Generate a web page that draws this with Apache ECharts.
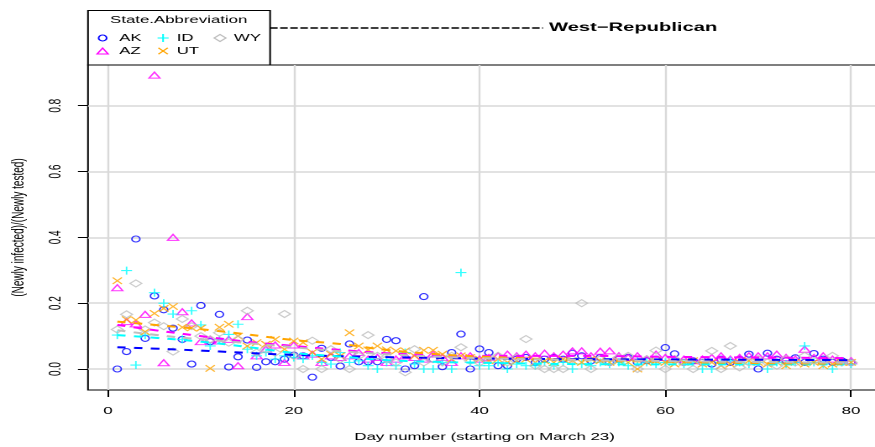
<!DOCTYPE html>
<html>
<head>
<meta charset="utf-8">
<script src="https://cdn.jsdelivr.net/npm/echarts@6/dist/echarts.min.js"></script>
<style>
  html, body { margin: 0; padding: 0; background: #fff; overflow: hidden; width: 875px; height: 447px; }
  /* The plot is laid out on a narrow canvas and widened, giving the wide, flat glyphs of the original device */
  #chart { width: 521px; height: 447px; transform: scaleX(1.6795); transform-origin: 0 0; }
</style>
</head>
<body>
<div id="chart"></div>
<script>
// Day index (starting on March 23)
const days = [1,2,3,4,5,6,7,8,9,10,11,12,13,14,15,16,17,18,19,20,
  21,22,23,24,25,26,27,28,29,30,31,32,33,34,35,36,37,38,39,40,
  41,42,43,44,45,46,47,48,49,50,51,52,53,54,55,56,57,58,59,60,
  61,62,63,64,65,66,67,68,69,70,71,72,73,74,75,76,77,78,79,80];

// (Newly infected)/(Newly tested) per state
const AK = [0.0,0.053,0.395,0.093,0.222,0.18,0.124,0.09,0.015,0.193,
  0.083,0.166,0.006,0.037,0.088,0.005,0.022,0.022,0.03,0.042,
  0.04,-0.025,0.063,0.035,0.009,0.076,0.022,0.022,0.022,0.09,
  0.086,0.0,0.01,0.22,0.03,0.007,0.05,0.106,0.0,0.061,
  0.05,0.01,0.01,0.03,0.035,0.02,0.03,0.035,0.03,0.048,
  0.04,0.025,0.035,0.02,0.03,0.035,0.02,0.025,0.03,0.065,
  0.046,0.02,0.025,0.02,0.015,0.03,0.02,0.03,0.045,0.0,
  0.048,0.03,0.025,0.034,0.02,0.047,0.03,0.02,0.025,0.02];
const AZ = [0.247,0.144,0.137,0.166,0.893,0.019,0.40,0.174,0.14,0.083,
  0.09,0.085,0.09,0.01,0.159,0.04,0.06,0.073,0.02,0.073,
  0.04,0.045,0.02,0.04,0.035,0.04,0.05,0.03,0.035,0.02,
  0.03,0.04,0.035,0.03,0.045,0.035,0.02,0.04,0.04,0.03,
  0.035,0.04,0.045,0.04,0.045,0.04,0.048,0.04,0.045,0.055,
  0.055,0.04,0.054,0.055,0.04,0.035,0.04,0.03,0.045,0.035,
  0.03,0.03,0.025,0.03,0.035,0.04,0.03,0.035,0.04,0.04,
  0.04,0.045,0.035,0.03,0.06,0.035,0.04,0.03,0.025,0.025];
const ID = [0.103,0.299,0.012,0.103,0.232,0.20,0.167,0.09,0.177,0.134,
  0.07,0.09,0.105,0.136,0.06,0.04,0.05,0.03,0.04,0.035,
  0.03,0.04,0.02,0.015,0.05,0.02,0.025,0.01,0.0,0.02,
  0.01,0.05,0.015,0.0,0.0,0.02,0.0,0.293,0.02,0.01,
  0.01,0.02,0.0,0.015,0.01,0.01,0.02,0.01,0.02,0.0,
  0.015,0.01,0.02,0.015,0.02,0.01,0.025,0.02,0.015,0.02,
  0.025,0.015,0.02,0.0,0.0,0.02,0.025,0.02,0.015,0.02,
  0.0,0.02,0.015,0.02,0.07,0.02,0.015,0.0,0.02,0.015];
const UT = [0.268,0.15,0.149,0.113,0.169,0.184,0.19,0.127,0.125,0.124,
  0.002,0.127,0.136,0.1,0.07,0.08,0.075,0.09,0.06,0.085,
  0.08,0.05,0.03,0.045,0.04,0.11,0.07,0.058,0.07,0.058,
  0.055,0.055,0.04,0.057,0.057,0.045,0.03,0.04,0.035,0.03,
  0.025,0.03,0.02,0.025,0.03,0.02,0.025,0.02,0.03,0.025,
  0.02,0.03,0.025,0.02,0.025,0.02,0.0,0.02,0.025,0.02,
  0.015,0.02,0.025,0.015,0.02,0.01,0.015,0.02,0.025,0.02,
  0.015,0.02,0.01,0.02,0.015,0.02,0.01,0.015,0.02,0.02];
const WY = [0.12,0.166,0.26,0.12,0.141,0.13,0.053,0.152,0.13,0.1,
  0.09,0.11,0.08,0.09,0.177,0.05,0.06,0.05,0.167,0.04,
  0.0,0.086,0.0,0.06,0.03,0.0,0.04,0.103,0.04,0.03,
  0.02,-0.01,0.06,0.02,0.03,0.02,0.04,0.066,0.025,0.02,
  0.03,0.04,0.02,0.035,0.091,0.01,0.0,0.0,0.0,0.03,
  0.2,0.0,0.03,0.02,0.035,0.04,0.0,0.03,0.056,0.0,
  0.03,0.02,0.0,0.02,0.055,0.0,0.07,0.005,0.02,0.03,
  0.02,0.01,0.03,0.02,0.04,0.025,0.02,0.04,0.02,0.02];

// Smoothed trend per state (dashed curves)
const trendDays = [1,5,10,15,20,25,30,35,40,50,60,70,80];
const trendAK = [0.066,0.062,0.056,0.049,0.043,0.039,0.036,0.034,0.032,0.030,0.029,0.028,0.027];
const trendAZ = [0.134,0.118,0.100,0.083,0.070,0.058,0.048,0.042,0.040,0.040,0.037,0.035,0.033];
const trendID = [0.103,0.095,0.083,0.067,0.049,0.038,0.027,0.022,0.019,0.015,0.014,0.014,0.014];
const trendUT = [0.144,0.134,0.121,0.105,0.088,0.076,0.058,0.046,0.038,0.028,0.022,0.018,0.016];
const trendWY = [0.118,0.104,0.090,0.079,0.066,0.054,0.045,0.038,0.033,0.028,0.024,0.021,0.019];

// Axis ticks
const xTicks = [0, 20, 40, 60, 80];
const yTicks = [0, 0.2, 0.4, 0.6, 0.8];

const FONT = "'Liberation Sans', Arial, Helvetica, sans-serif";
const PLUS = 'path://M0,5L10,5M5,0L5,10';
const CROSS = 'path://M0,0L10,10M10,0L0,10';

const states = [
  { name: 'AK', values: AK, trend: trendAK, color: '#0000FF', symbol: 'circle',   size: [4.8, 6] },
  { name: 'AZ', values: AZ, trend: trendAZ, color: '#FF00FF', symbol: 'triangle', size: [6.5, 6] },
  { name: 'ID', values: ID, trend: trendID, color: '#00FFFF', symbol: PLUS,       size: [6.5, 8] },
  { name: 'UT', values: UT, trend: trendUT, color: '#FFA500', symbol: CROSS,      size: [5.5, 6.5] },
  { name: 'WY', values: WY, trend: trendWY, color: '#BEBEBE', symbol: 'diamond',  size: [7, 7] }
];

const series = [];
states.forEach(s => {
  series.push({
    name: s.name, type: 'scatter', z: 2,
    symbol: s.symbol, symbolSize: s.size,
    itemStyle: { color: 'rgba(0,0,0,0)', borderColor: s.color, borderWidth: 1 },
    emphasis: { disabled: true },
    data: days.map((d, i) => [d, s.values[i]])
  });
});
states.forEach(s => {
  series.push({
    name: s.name + ' trend', type: 'line', z: 3,
    smooth: true, showSymbol: false, symbol: 'none',
    lineStyle: { color: s.color, width: 2, type: [5, 5] },
    emphasis: { disabled: true },
    data: trendDays.map((d, i) => [d, s.trend[i]])
  });
});

// Legend block drawn in the top-left corner
const lg = { x: 52.4, y: 10.5, w: 108.4, h: 54.5 };
const r1 = 38, r2 = 51, c1 = 61.1, c2 = 97.1, c3 = 131.0;
const legendText = (x, y, t) => ({ type: 'text', x: x, y: y, z: 11,
  style: { text: t, fill: '#000', font: '10px ' + FONT, textVerticalAlign: 'middle' } });
const graphic = [
  { type: 'rect', z: 10, shape: { x: lg.x, y: lg.y, width: lg.w, height: lg.h },
    style: { fill: '#fff', stroke: '#000', lineWidth: 1 } },
  { type: 'text', x: 106.4, y: 20, z: 11,
    style: { text: 'State.Abbreviation', fill: '#000', font: '10px ' + FONT,
             textAlign: 'center', textVerticalAlign: 'middle' } },
  { type: 'ellipse', z: 11, shape: { cx: c1, cy: r1, rx: 2.4, ry: 3 },
    style: { fill: 'none', stroke: '#0000FF', lineWidth: 1 } },
  legendText(71.0, r1, 'AK'),
  { type: 'line', z: 11, shape: { x1: c2 - 3.3, y1: r1, x2: c2 + 3.3, y2: r1 }, style: { stroke: '#00FFFF', lineWidth: 1 } },
  { type: 'line', z: 11, shape: { x1: c2, y1: r1 - 4, x2: c2, y2: r1 + 4 }, style: { stroke: '#00FFFF', lineWidth: 1 } },
  legendText(105.2, r1, 'ID'),
  { type: 'polygon', z: 11, shape: { points: [[c3 - 3.5, r1], [c3, r1 - 3.5], [c3 + 3.5, r1], [c3, r1 + 3.5]] },
    style: { fill: 'none', stroke: '#BEBEBE', lineWidth: 1 } },
  legendText(139.3, r1, 'WY'),
  { type: 'polygon', z: 11, shape: { points: [[c1 - 3.3, r2 + 3], [c1, r2 - 3], [c1 + 3.3, r2 + 3]] },
    style: { fill: 'none', stroke: '#FF00FF', lineWidth: 1 } },
  legendText(71.0, r2, 'AZ'),
  { type: 'line', z: 11, shape: { x1: c2 - 2.8, y1: r2 - 3.2, x2: c2 + 2.8, y2: r2 + 3.2 }, style: { stroke: '#FFA500', lineWidth: 1 } },
  { type: 'line', z: 11, shape: { x1: c2 + 2.8, y1: r2 - 3.2, x2: c2 - 2.8, y2: r2 + 3.2 }, style: { stroke: '#FFA500', lineWidth: 1 } },
  legendText(105.2, r2, 'UT'),
  // panel heading
  { type: 'line', z: 5, shape: { x1: 160.8, y1: 28, x2: 323.3, y2: 28 },
    style: { stroke: '#000', lineWidth: 1.5, lineDash: [4.5, 1.5] } },
  { type: 'text', x: 326.9, y: 27.5, z: 5,
    style: { text: 'West\u2212Republican', fill: '#000', font: 'bold 12px ' + FONT, textVerticalAlign: 'middle' } }
];

const chart = echarts.init(document.getElementById('chart'), null, { renderer: 'canvas', devicePixelRatio: 2 });
chart.setOption({
  animation: false,
  backgroundColor: '#fff',
  grid: { left: 52.4, top: 65, width: 472.2, height: 325, outerBoundsMode: 'none', containLabel: false,
          show: true, borderColor: '#000', borderWidth: 1, backgroundColor: 'transparent' },
  xAxis: {
    type: 'value', min: -2.153, max: 83.23,
    name: 'Day number (starting on March 23)', nameLocation: 'middle', nameGap: 42,
    nameTextStyle: { color: '#000', fontSize: 10, fontFamily: FONT },
    axisLine: { show: false, onZero: false },
    axisTick: { show: true, customValues: xTicks, length: 7, lineStyle: { color: '#000', width: 1 } },
    axisLabel: { customValues: xTicks, color: '#000', fontSize: 10, fontFamily: FONT, margin: 16 },
    splitLine: { show: true, lineStyle: { color: '#D9D9D9', width: 1.2 } }
  },
  yAxis: {
    type: 'value', min: -0.0638, max: 0.9237,
    name: '(Newly infected)/(Newly tested)', nameLocation: 'middle', nameGap: 36,
    nameTextStyle: { color: '#000', fontSize: 10, fontFamily: FONT },
    axisLine: { show: false, onZero: false },
    axisTick: { show: true, customValues: yTicks, length: 6, lineStyle: { color: '#000', width: 1 } },
    axisLabel: { customValues: yTicks, rotate: 90, color: '#000', fontSize: 10, fontFamily: FONT, margin: 14,
                 formatter: v => v.toFixed(1) },
    splitLine: { show: true, lineStyle: { color: '#D9D9D9', width: 1.5 } }
  },
  graphic: graphic,
  series: series
});
</script>
</body>
</html>
